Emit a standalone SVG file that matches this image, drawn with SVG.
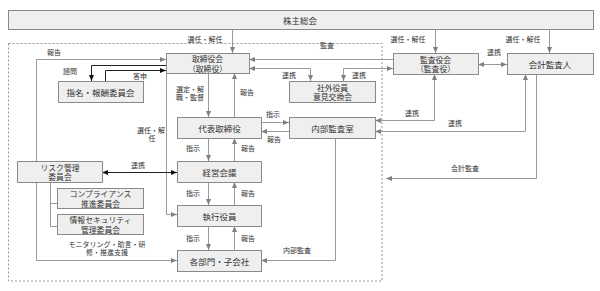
<svg xmlns="http://www.w3.org/2000/svg" width="600" height="291" viewBox="0 0 600 291">
<style>
.box{fill:#efefef;stroke:#8a8a8a;stroke-width:1}
.bt{font-family:"Noto Sans CJK JP","Noto Sans",sans-serif;font-size:8.5px;fill:#333;text-anchor:middle;dominant-baseline:central}
.b2{font-family:"Noto Sans CJK JP","Noto Sans",sans-serif;font-size:7.8px;fill:#333;text-anchor:middle;dominant-baseline:central}
.lb{font-family:"Noto Sans CJK JP","Noto Sans",sans-serif;font-size:7px;fill:#333;text-anchor:middle;dominant-baseline:central}
.g{fill:none;stroke:#9a9a9a;stroke-width:1}
.k{fill:none;stroke:#222;stroke-width:1}
.ga{marker-end:url(#ag)}
.gb{marker-start:url(#ag);marker-end:url(#ag)}
.ka{marker-end:url(#ak)}
.kb{marker-start:url(#ak);marker-end:url(#ak)}
</style>
<defs>
<marker id="ag" markerUnits="userSpaceOnUse" markerWidth="6" markerHeight="6" viewBox="0 0 6 6" refX="6" refY="3" orient="auto-start-reverse"><path d="M0,0.5 L6,3 L0,5.5 Z" fill="#808080"/></marker>
<marker id="ak" markerUnits="userSpaceOnUse" markerWidth="6" markerHeight="6" viewBox="0 0 6 6" refX="6" refY="3" orient="auto-start-reverse"><path d="M0,0.5 L6,3 L0,5.5 Z" fill="#111"/></marker>
</defs>
<rect x="8.5" y="43.5" width="373.5" height="237.5" fill="none" stroke="#999" stroke-width="1" stroke-dasharray="2,2"/>
<g id="connectors">
<path class="g ga" d="M232.5,29 V53"/>
<path class="g ga" d="M435.5,29 V53"/>
<path class="g ga" d="M549.5,29 V53"/>
<path class="g gb" d="M478,64.5 H507"/>
<path class="g ga" d="M393,59.5 H249"/>
<path class="g gb" d="M249,68.5 H310.5 V81"/>
<path class="g gb" d="M343.5,81 V68.5 H393"/>
<path class="g gb" d="M434.5,74 V120.5 H375"/>
<path class="g gb" d="M525.5,74 V131.5 H375"/>
<path class="g ga" d="M536.5,74 V178.5 H386"/>
<path class="g ga" d="M208.5,73 V117"/>
<path class="g ga" d="M234.5,117 V73"/>
<path class="g ga" d="M166.5,73 V214.5 H177"/>
<path class="g ga" d="M261,122.5 H289"/>
<path class="g ga" d="M289,131.5 H261"/>
<path class="g ga" d="M208.5,138 V161"/>
<path class="g ga" d="M234.5,161 V138"/>
<path class="g ga" d="M208.5,182 V205"/>
<path class="g ga" d="M234.5,205 V182"/>
<path class="g ga" d="M208.5,226 V250"/>
<path class="g ga" d="M234.5,250 V226"/>
<path class="g ga" d="M335.5,138 V260.5 H261"/>
<path class="g ga" d="M36.5,161 V59.5 H166"/>
<path class="g ga" d="M36.5,182 V260.5 H177"/>
<path class="g" d="M50.5,182 V226.5 H57 M50.5,203.5 H57"/>
<path class="k kb" d="M102,172.5 H177"/>
<path class="k ka" d="M166,65.5 H91.5 V81"/>
<path class="k ka" d="M105.5,81 V70.5 H166"/>
<text class="lb" x="205" y="39">選任・解任</text>
<text class="lb" x="408" y="39">選任・解任</text>
<text class="lb" x="523" y="39">選任・解任</text>
<text class="lb" x="494" y="52">連携</text>
<text class="lb" x="327" y="45">監査</text>
<text class="lb" x="289" y="75">連携</text>
<text class="lb" x="359" y="75">連携</text>
<text class="lb" x="412" y="113">連携</text>
<text class="lb" x="455" y="123">連携</text>
<text class="lb" x="465" y="168">会計監査</text>
<text class="lb" x="190" y="88.5">選定・解</text>
<text class="lb" x="190" y="97">職・監督</text>
<text class="lb" x="247" y="92">報告</text>
<text class="lb" x="151" y="129.5">選任・解</text>
<text class="lb" x="152" y="138">任</text>
<text class="lb" x="273" y="114">指示</text>
<text class="lb" x="274" y="139">報告</text>
<text class="lb" x="193" y="148">指示</text>
<text class="lb" x="248" y="148">報告</text>
<text class="lb" x="193" y="193">指示</text>
<text class="lb" x="248" y="193">報告</text>
<text class="lb" x="193" y="238">指示</text>
<text class="lb" x="248" y="238">報告</text>
<text class="lb" x="297" y="250">内部監査</text>
<text class="lb" x="54" y="52">報告</text>
<text class="lb" x="107" y="243.5">モニタリング・助言・研</text>
<text class="lb" x="107" y="252">修・推進支援</text>
<text class="lb" x="138" y="165">連携</text>
<text class="lb" x="70" y="71">諮問</text>
<text class="lb" x="140" y="76">答申</text>
</g>
<g id="n-kabunushi"><rect class="box" x="8.5" y="10.5" width="585" height="19"/><text class="bt" x="300" y="20">株主総会</text></g>
<g id="n-torishimariyakukai"><rect class="box" x="166.5" y="53.5" width="83" height="20"/><text class="b2" x="207.5" y="58.6">取締役会</text><text class="b2" x="207.5" y="68.4">（取締役）</text></g>
<g id="n-kansayakukai"><rect class="box" x="393.5" y="53.5" width="85" height="21"/><text class="b2" x="435.5" y="59">監査役会</text><text class="b2" x="435.5" y="68.8">（監査役）</text></g>
<g id="n-kaikeikansanin"><rect class="box" x="507.5" y="53.5" width="86" height="21"/><text class="bt" x="550" y="64">会計監査人</text></g>
<g id="n-shimei"><rect class="box" x="58.5" y="81.5" width="85" height="21"/><text class="bt" x="100.5" y="91.5">指名・報酬委員会</text></g>
<g id="n-shagai"><rect class="box" x="289.5" y="81.5" width="86" height="21"/><text class="b2" x="332.5" y="87">社外役員</text><text class="b2" x="332.5" y="96.8">意見交換会</text></g>
<g id="n-daihyo"><rect class="box" x="177.5" y="117.5" width="84" height="21"/><text class="bt" x="219.5" y="128">代表取締役</text></g>
<g id="n-naibukansa"><rect class="box" x="289.5" y="117.5" width="86" height="21"/><text class="bt" x="332.5" y="128">内部監査室</text></g>
<g id="n-risk"><rect class="box" x="17.5" y="161.5" width="85" height="21"/><text class="b2" x="60" y="167">リスク管理</text><text class="b2" x="60" y="176.8">委員会</text></g>
<g id="n-compliance"><rect class="box" x="57.5" y="188.5" width="86" height="20"/><text class="b2" x="100.5" y="193.6">コンプライアンス</text><text class="b2" x="100.5" y="203.4">推進委員会</text></g>
<g id="n-security"><rect class="box" x="57.5" y="214.5" width="86" height="20"/><text class="b2" x="100.5" y="219.6">情報セキュリティ</text><text class="b2" x="100.5" y="229.4">管理委員会</text></g>
<g id="n-keiei"><rect class="box" x="177.5" y="161.5" width="84" height="21"/><text class="bt" x="219.5" y="172">経営会議</text></g>
<g id="n-shikko"><rect class="box" x="177.5" y="205.5" width="84" height="21"/><text class="bt" x="219.5" y="216">執行役員</text></g>
<g id="n-kakubumon"><rect class="box" x="177.5" y="250.5" width="84" height="21"/><text class="bt" x="219.5" y="261">各部門・子会社</text></g>
</svg>
